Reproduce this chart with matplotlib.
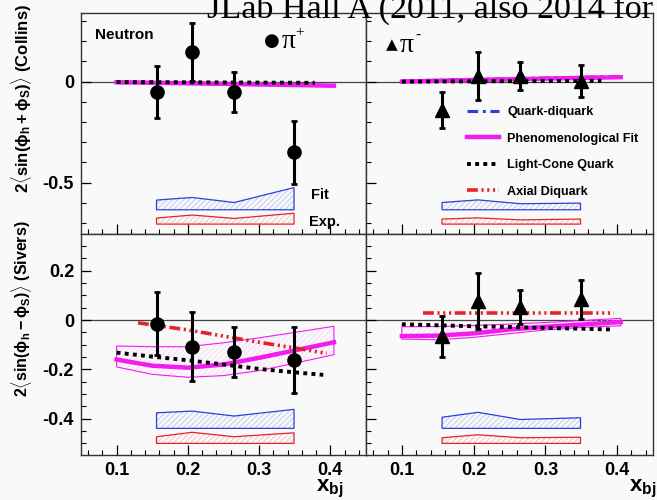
import matplotlib.pyplot as plt
from matplotlib.patches import Polygon
from matplotlib.ticker import MultipleLocator, FuncFormatter
import numpy as np

plt.rcParams['font.family'] = ['Liberation Sans', 'DejaVu Sans']
plt.rcParams['font.weight'] = 'bold'
plt.rcParams['axes.unicode_minus'] = False
plt.rcParams['hatch.linewidth'] = 0.6
plt.rcParams['mathtext.fontset'] = 'custom'
plt.rcParams['mathtext.rm'] = 'Liberation Sans:bold'
plt.rcParams['mathtext.it'] = 'Liberation Sans:bold'
plt.rcParams['mathtext.bf'] = 'Liberation Sans:bold'
plt.rcParams['mathtext.default'] = 'bf'

# --- data ---
x_bins = [0.156, 0.206, 0.265, 0.349]

collins_pip = [-0.051, 0.147, -0.051, -0.351]
collins_pip_err = [0.13, 0.145, 0.10, 0.157]
collins_pim = [-0.14, 0.028, 0.028, 0.003]
collins_pim_err = [0.088, 0.118, 0.07, 0.078]
sivers_pip = [-0.014, -0.108, -0.13, -0.162]
sivers_pip_err = [0.126, 0.14, 0.10, 0.135]
sivers_pim = [-0.065, 0.077, 0.054, 0.084]
sivers_pim_err = [0.083, 0.115, 0.068, 0.08]

# systematic bands (height above a fixed baseline)
collins_pip_fit_sys = [0.048, 0.061, 0.036, 0.11]
collins_pip_exp_sys = [0.03, 0.045, 0.028, 0.054]
collins_pim_fit_sys = [0.036, 0.049, 0.03, 0.033]
collins_pim_exp_sys = [0.025, 0.031, 0.021, 0.025]
sivers_pip_fit_sys = [0.063, 0.07, 0.05, 0.077]
sivers_pip_exp_sys = [0.027, 0.045, 0.027, 0.043]
sivers_pim_fit_sys = [0.045, 0.065, 0.036, 0.043]
sivers_pim_exp_sys = [0.023, 0.035, 0.023, 0.025]
collins_base = (-0.635, -0.706)
sivers_base = (-0.439, -0.50)

# theory curves, Collins
coll_x = [0.10, 0.20, 0.30, 0.405]
coll_pip_fit = [-0.003, -0.008, -0.014, -0.02]
coll_pip_qd = [-0.005, -0.01, -0.015, -0.021]
coll_pim_fit = [0.0, 0.008, 0.015, 0.022]
coll_pim_qd = [0.003, 0.011, 0.018, 0.026]
coll_lc_x = [0.10, 0.378]
coll_pip_lc = [-0.002, -0.006]
coll_pim_lc = [0.0, 0.004]

# theory curves, Sivers
siv_x = [0.10, 0.15, 0.20, 0.25, 0.30, 0.35, 0.405]
siv_pip_fit = [-0.16, -0.185, -0.193, -0.18, -0.153, -0.123, -0.09]
siv_pip_hi = [-0.105, -0.108, -0.108, -0.092, -0.072, -0.05, -0.025]
siv_pip_lo = [-0.19, -0.22, -0.232, -0.225, -0.205, -0.175, -0.14]
siv_pim_fit = [-0.065, -0.063, -0.054, -0.038, -0.027, -0.018, -0.008]
siv_pim_hi = [-0.027, -0.026, -0.022, -0.016, -0.01, -0.002, 0.007]
siv_pim_lo = [-0.077, -0.08, -0.07, -0.055, -0.04, -0.03, -0.023]
siv_lc_x = [0.10, 0.15, 0.20, 0.25, 0.30, 0.35, 0.39]
siv_pip_lc = [-0.132, -0.148, -0.163, -0.18, -0.198, -0.212, -0.222]
siv_pim_lc = [-0.017, -0.021, -0.025, -0.028, -0.032, -0.035, -0.038]
siv_ad_x = [0.13, 0.20, 0.25, 0.30, 0.35, 0.395]
siv_pip_ad = [-0.011, -0.04, -0.065, -0.09, -0.113, -0.135]
siv_pim_ad = [0.03, 0.03, 0.03, 0.03, 0.03, 0.03]

legend_labels = ['Quark-diquark', 'Phenomenological Fit',
                 'Light-Cone Quark', 'Axial Diquark']

# --- styles ---
BG = '#f9f9f9'
MAG = '#f01cf0'
BLUE = '#2b3fe0'
RED = '#e4242a'

fig = plt.figure(figsize=(6.57, 5.0), dpi=100, facecolor=BG)
W, H = 657, 500


def axes_px(x0, y0, x1, y1):
    return fig.add_axes([x0 / W, 1 - y1 / H, (x1 - x0) / W, (y1 - y0) / H])


ax_tl = axes_px(81, 13, 366, 234)
ax_tr = axes_px(366, 13, 653, 234)
ax_bl = axes_px(81, 234, 366, 455)
ax_br = axes_px(366, 234, 653, 455)

fmt = FuncFormatter(lambda v, p: '%g' % round(v, 3))

for ax in (ax_tl, ax_tr, ax_bl, ax_br):
    ax.set_facecolor(BG)
    ax.set_xlim(0.05, 0.45)
    ax.axhline(0, color='#444444', lw=0.9, zorder=1)
    ax.xaxis.set_major_locator(MultipleLocator(0.1))
    ax.xaxis.set_minor_locator(MultipleLocator(0.02))
    ax.tick_params(which='both', direction='in', top=False, right=False,
                   labelsize=13, pad=5)
    ax.tick_params(which='major', length=7, width=0.9)
    ax.tick_params(which='minor', length=3.5, width=0.8)
    for s in ax.spines.values():
        s.set_linewidth(1.0)
        s.set_color('#333333')
    ax.xaxis.set_major_formatter(fmt)
    ax.yaxis.set_major_formatter(fmt)

for ax in (ax_tl, ax_tr):
    ax.set_ylim(-0.755, 0.34)
    ax.yaxis.set_major_locator(MultipleLocator(0.5))
    ax.yaxis.set_minor_locator(MultipleLocator(0.1))
    ax.tick_params(labelbottom=False)
for ax in (ax_bl, ax_br):
    ax.set_ylim(-0.547, 0.349)
    ax.yaxis.set_major_locator(MultipleLocator(0.2))
    ax.yaxis.set_minor_locator(MultipleLocator(0.05))
for ax in (ax_tr, ax_br):
    ax.tick_params(labelleft=False)


def sys_band(ax, heights, base, color, hatch_color):
    xs = list(x_bins)
    tops = [base + h for h in heights]
    verts = [(xs[0], base)] + list(zip(xs, tops)) + [(xs[-1], base)]
    ax.add_patch(Polygon(verts, closed=True, facecolor='none',
                         edgecolor=hatch_color, hatch='//////', lw=0, zorder=2))
    ax.add_patch(Polygon(verts, closed=True, facecolor='none',
                         edgecolor=color, lw=0.9, zorder=3))


def fit_band(ax, hi, lo):
    verts = list(zip(siv_x, hi)) + list(zip(siv_x[::-1], lo[::-1]))
    ax.add_patch(Polygon(verts, closed=True, facecolor='none',
                         edgecolor='#fbd6fb', hatch='//////', lw=0, zorder=2))
    ax.add_patch(Polygon(verts, closed=True, facecolor='none',
                         edgecolor=MAG, lw=0.8, zorder=3))


def points(ax, y, err, marker):
    ax.errorbar(x_bins, y, yerr=err, fmt=marker, color='black', ms=9.5,
                elinewidth=2.2, capsize=2, capthick=2, zorder=6)


qd_style = dict(color=BLUE, lw=2.2, dashes=(3.5, 1.5, 1, 1.5), zorder=4)
fit_style = dict(color=MAG, lw=3.2, zorder=4)
lc_style = dict(color='black', lw=2.8, dashes=(1, 1.1), zorder=5)
ad_style = dict(color=RED, lw=2.6, dashes=(3, 1, 0.6, 1, 0.6, 1, 0.6, 1), zorder=4)

# Collins pi+
sys_band(ax_tl, collins_pip_fit_sys, collins_base[0], BLUE, '#b8c4f0')
sys_band(ax_tl, collins_pip_exp_sys, collins_base[1], RED, '#f0c0c0')
ax_tl.plot(coll_x, coll_pip_qd, **qd_style)
ax_tl.plot(coll_x, coll_pip_fit, **fit_style)
ax_tl.plot(coll_lc_x, coll_pip_lc, **lc_style)
points(ax_tl, collins_pip, collins_pip_err, 'o')

# Collins pi-
sys_band(ax_tr, collins_pim_fit_sys, collins_base[0], BLUE, '#b8c4f0')
sys_band(ax_tr, collins_pim_exp_sys, collins_base[1], RED, '#f0c0c0')
l_qd, = ax_tr.plot(coll_x, coll_pim_qd, **qd_style)
l_fit, = ax_tr.plot(coll_x, coll_pim_fit, **fit_style)
l_lc, = ax_tr.plot(coll_lc_x, coll_pim_lc, **lc_style)
points(ax_tr, collins_pim, collins_pim_err, '^')

# Sivers pi+
sys_band(ax_bl, sivers_pip_fit_sys, sivers_base[0], BLUE, '#b8c4f0')
sys_band(ax_bl, sivers_pip_exp_sys, sivers_base[1], RED, '#f0c0c0')
fit_band(ax_bl, siv_pip_hi, siv_pip_lo)
ax_bl.plot(siv_x, siv_pip_fit, **fit_style)
ax_bl.plot(siv_lc_x, siv_pip_lc, **lc_style)
l_ad, = ax_bl.plot(siv_ad_x, siv_pip_ad, **ad_style)
points(ax_bl, sivers_pip, sivers_pip_err, 'o')

# Sivers pi-
sys_band(ax_br, sivers_pim_fit_sys, sivers_base[0], BLUE, '#b8c4f0')
sys_band(ax_br, sivers_pim_exp_sys, sivers_base[1], RED, '#f0c0c0')
fit_band(ax_br, siv_pim_hi, siv_pim_lo)
ax_br.plot(siv_x, siv_pim_fit, **fit_style)
ax_br.plot(siv_lc_x, siv_pim_lc, **lc_style)
ax_br.plot(siv_ad_x, siv_pim_ad, **ad_style)
points(ax_br, sivers_pim, sivers_pim_err, '^')

# legend
ax_tr.legend([l_qd, l_fit, l_lc, l_ad], legend_labels, loc='upper left',
             bbox_to_anchor=(0.352, 0.578), frameon=False,
             handlelength=2.5, handletextpad=0.7, labelspacing=1.15,
             borderpad=0, borderaxespad=0, prop={'weight': 'bold', 'size': 9.1})

# panel annotations
ax_tl.text(0.049, 0.9, 'Neutron', transform=ax_tl.transAxes, fontsize=11,
           fontweight='bold', va='center', ha='left')
ax_tl.text(0.668, 0.873, '●', transform=ax_tl.transAxes, fontsize=13,
           family='DejaVu Sans', va='center', ha='center')
ax_tl.text(0.703, 0.873, 'π', transform=ax_tl.transAxes, fontsize=20,
           family='Liberation Serif', fontweight='normal', va='center', ha='left')
ax_tl.text(0.752, 0.91, '+', transform=ax_tl.transAxes, fontsize=11,
           family='Liberation Serif', fontweight='normal', va='center', ha='left')
ax_tr.text(0.09, 0.855, '▲', transform=ax_tr.transAxes, fontsize=11,
           family='DejaVu Sans', va='center', ha='center')
ax_tr.text(0.117, 0.855, 'π', transform=ax_tr.transAxes, fontsize=20,
           family='Liberation Serif', fontweight='normal', va='center', ha='left')
ax_tr.text(0.172, 0.9, '-', transform=ax_tr.transAxes, fontsize=11,
           family='Liberation Serif', fontweight='normal', va='center', ha='left')
ax_tl.text(0.839, 0.176, 'Fit', transform=ax_tl.transAxes, fontsize=10.5,
           fontweight='bold', va='center', ha='center')
ax_tl.text(0.856, 0.054, 'Exp.', transform=ax_tl.transAxes, fontsize=10.5,
           fontweight='bold', va='center', ha='center')

# axis titles
fig.text(22 / W, 1 - 193 / H, r'$2\langle sin(\phi_h+\phi_S)\rangle$ (Collins)',
         rotation=90, ha='center', va='bottom', fontsize=12, fontweight='bold')
fig.text(22 / W, 1 - 397 / H, r'$2\langle sin(\phi_h-\phi_S)\rangle$ (Sivers)',
         rotation=90, ha='center', va='bottom', fontsize=11.5, fontweight='bold')
for xr in (343, 656):
    fig.text(xr / W, 1 - 489 / H, r'$x_{bj}$', ha='right', va='center',
             fontsize=16)

# clipped title at the very top
fig.text(207 / W, 1 - 18 / H, 'JLab Hall A (2011, also 2014 for', family='Liberation Serif',
         fontsize=24.6, fontweight='normal', ha='left', va='baseline')

fig.savefig('out.png', dpi=100, facecolor=BG)
